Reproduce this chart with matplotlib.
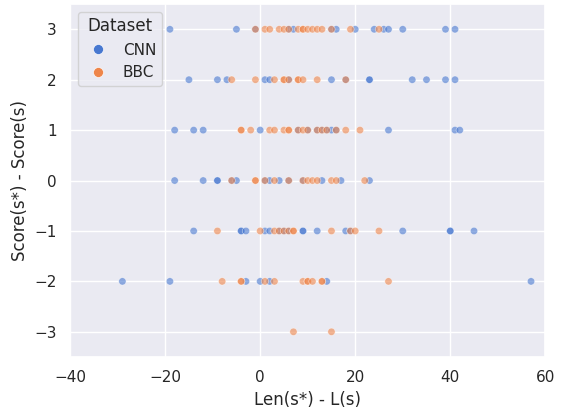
import matplotlib
matplotlib.use("Agg")
import matplotlib.pyplot as plt
import seaborn as sns
import pandas as pd

# x values (Len(s*) - L(s)) per score difference
cnn_rows = {
    3: [-19, -5, -1, 6, 7, 15, 16, 20, 24, 26, 27, 30, 39, 41],
    2: [-15, -9, -7, 1, 2, 6, 15, 18, 23, 23, 32, 35, 39, 41],
    1: [-18, -14, -12, 0, 8, 10, 12, 13, 14, 15, 16, 27, 41, 42],
    0: [-18, -12, -9, -9, -6, -5, 1, 2, 4, 6, 9, 13, 17, 23],
    -1: [-14, -4, -4, -3, 1, 2, 4, 5, 6, 9, 9, 12, 18, 19, 30, 40, 40, 45],
    -2: [-29, -19, -3, 0, 2, 14, 57],
}
bbc_rows = {
    3: [-1, 1, 2, 4, 5, 6, 8, 9, 9, 10, 11, 12, 13, 15, 19, 25],
    2: [-6, -1, 3, 5, 5, 6, 8, 8, 9, 12, 18],
    1: [-4, -4, -2, 2, 3, 5, 6, 6, 8, 9, 10, 12, 13, 14, 16, 18, 21],
    0: [-6, -1, -1, 1, 3, 6, 9, 10, 11, 12, 15, 16, 22],
    -1: [-9, 0, 3, 4, 5, 6, 7, 7, 15, 19, 20, 25],
    -2: [-8, -4, -4, 1, 3, 9, 10, 10, 11, 13, 13, 27],
    -3: [7, 15],
}

records = []
for name, rows in [("CNN", cnn_rows), ("BBC", bbc_rows)]:
    for score, xs in rows.items():
        for x in xs:
            records.append({"len": x, "score": score, "Dataset": name})
df = pd.DataFrame(records)

sns.set_theme(style="darkgrid")
fig, ax = plt.subplots(figsize=(5.61, 4.08), dpi=100)
sns.scatterplot(data=df, x="len", y="score", hue="Dataset",
                palette="muted", alpha=0.6, s=28, ax=ax)

ax.set_xlim(-40, 60)
ax.set_ylim(-3.5, 3.5)
ax.set_xlabel("Len(s*) - L(s)")
ax.set_ylabel("Score(s*) - Score(s)")

# legend markers opaque and a bit bigger, like the original
handles, labels = ax.get_legend_handles_labels()
leg = ax.legend(handles, labels, title="Dataset", loc="upper left",
                markerscale=1.35, borderpad=0.35, handletextpad=0.6)
for h in leg.legend_handles:
    h.set_alpha(1)

plt.subplots_adjust(left=0.125, right=0.972, bottom=0.125, top=0.99)
plt.savefig("out.png", dpi=100)
